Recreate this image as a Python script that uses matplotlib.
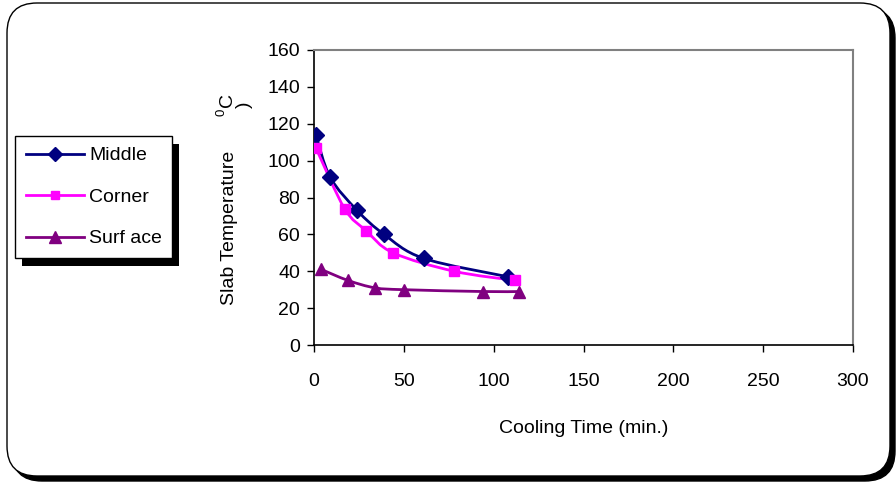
import matplotlib
matplotlib.use("Agg")
import matplotlib.pyplot as plt
from matplotlib.patches import FancyBboxPatch, Rectangle, PathPatch
from matplotlib.path import Path
from matplotlib.lines import Line2D
import numpy as np

plt.rcParams['font.family'] = ['Liberation Sans', 'DejaVu Sans']

# data
middle_t = [1, 9, 24, 39, 61, 108]
middle_T = [114, 91, 73, 60, 47, 37]
corner_t = [1, 17, 29, 44, 78, 112]
corner_T = [107, 74, 62, 50, 40, 35]
surface_t = [4, 19, 34, 50, 94, 114]
surface_T = [41, 35, 31, 30, 29, 29]

labels = ['Middle', 'Corner', 'Surf ace']
colors = ['#000080', '#FF00FF', '#800080']
markers = ['D', 's', '^']
msizes = [8, 7, 9]

x_ticks = [0, 50, 100, 150, 200, 250, 300]
y_ticks = [0, 20, 40, 60, 80, 100, 120, 140, 160]


def smooth_path(xs, ys):
    # catmull-rom through the points, drawn as bezier segments
    p = np.column_stack([xs, ys]).astype(float)
    verts = [p[0]]
    codes = [Path.MOVETO]
    n = len(p)
    for i in range(n - 1):
        p0 = p[i - 1] if i > 0 else p[i]
        p3 = p[i + 2] if i + 2 < n else p[i + 1]
        c1 = p[i] + (p[i + 1] - p0) / 6
        c2 = p[i + 1] - (p3 - p[i]) / 6
        verts += [c1, c2, p[i + 1]]
        codes += [Path.CURVE4] * 3
    return Path(verts, codes)


W, H = 896, 484
FS = 14
fig = plt.figure(figsize=(W / 100, H / 100), dpi=100)

# rounded outer frame with black shadow
fig.patches.append(FancyBboxPatch((0.12, 0.03), 8.83, 4.73,
                                  boxstyle="round,pad=0,rounding_size=0.30",
                                  transform=fig.dpi_scale_trans, fc='black', ec='black', zorder=0))
fig.patches.append(FancyBboxPatch((0.07, 0.08), 8.83, 4.73,
                                  boxstyle="round,pad=0,rounding_size=0.30",
                                  transform=fig.dpi_scale_trans, fc='white', ec='black', lw=1.0, zorder=1))

ax = fig.add_axes([314 / W, 1 - 345 / H, 539 / W, 295 / H])
ax.set_zorder(3)
ax.set_facecolor('none')

series = [(middle_t, middle_T), (corner_t, corner_T), (surface_t, surface_T)]
for (t, T), c, m, ms in zip(series, colors, markers, msizes):
    ax.add_patch(PathPatch(smooth_path(t, T), fc='none', ec=c, lw=2, zorder=3))
    ax.plot(t, T, ls='none', marker=m, ms=ms, color=c, zorder=4)

ax.set_xlim(0, 300)
ax.set_ylim(0, 160)
ax.set_xticks(x_ticks)
ax.set_yticks(y_ticks)
ax.tick_params(labelsize=FS, length=5, width=1, direction='out')
ax.tick_params(axis='x', pad=15)
ax.tick_params(axis='y', pad=5)
for s in ['top', 'right']:
    ax.spines[s].set_color('#808080')
    ax.spines[s].set_linewidth(1.5)
for s in ['left', 'bottom']:
    ax.spines[s].set_color('black')
    ax.spines[s].set_linewidth(1.2)

ax.set_xlabel('Cooling Time (min.)', fontsize=FS, labelpad=22)

# y label, pieces placed as in the picture
fig.text(229 / W, 1 - 228 / H, 'Slab Temperature', rotation=90, fontsize=FS,
         ha='center', va='center', zorder=4)
fig.text(227 / W, 1 - 100 / H, 'C', rotation=90, fontsize=FS, ha='center', va='center', zorder=4)
fig.text(221 / W, 1 - 112 / H, '0', rotation=90, fontsize=9.5, ha='center', va='center', zorder=4)
fig.text(244 / W, 1 - 105 / H, ')', rotation=90, fontsize=FS, ha='center', va='center', zorder=4)

handles = [Line2D([], [], color=c, marker=m, ms=ms * 0.9, lw=2)
           for c, m, ms in zip(colors, markers, msizes)]
leg = fig.legend(handles, labels, loc='upper left',
                 bbox_to_anchor=(15 / W, 1 - 136 / H), fontsize=FS,
                 frameon=True, fancybox=False, handlelength=3.0,
                 labelspacing=1.23, handletextpad=0.25, borderpad=0.55,
                 borderaxespad=0, framealpha=1, facecolor='white')
leg.get_frame().set_edgecolor('black')
leg.get_frame().set_linewidth(1.0)
leg.set_zorder(5)

fig.canvas.draw()
bb = leg.get_window_extent()
fig.patches.append(Rectangle((bb.x0 + 7, bb.y0 - 8), bb.width, bb.height,
                             transform=None, fc='black', ec='none', zorder=2))

fig.savefig('out.png', dpi=100)
